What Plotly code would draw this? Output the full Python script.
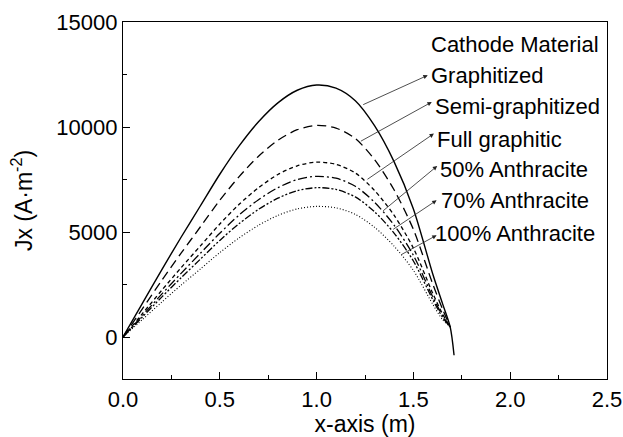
import plotly.graph_objects as go

x_main = [0, 0.1, 0.2, 0.3, 0.4, 0.5, 0.6, 0.7, 0.8, 0.9, 1.0, 1.1, 1.2, 1.3, 1.4, 1.5, 1.6, 1.65, 1.69]
x_graph = x_main + [1.71]

graphitized = [0, 1600, 3200, 4750, 6250, 7750, 9100, 10250, 11150, 11750, 12000, 11850, 11250, 10050, 8350, 6100, 3000, 1600, 480, -870]
semi_graphitized = [0, 1340, 2690, 3990, 5250, 6510, 7640, 8610, 9370, 9870, 10080, 9950, 9450, 8440, 7010, 5120, 2520, 1340, 480]
full_graphitic = [0, 1110, 2220, 3300, 4340, 5380, 6320, 7110, 7740, 8150, 8330, 8220, 7810, 6970, 5800, 4230, 2080, 1110, 480]
anthracite_50 = [0, 1020, 2040, 3030, 3990, 4940, 5810, 6540, 7110, 7500, 7650, 7560, 7180, 6410, 5330, 3890, 1910, 1020, 480]
anthracite_70 = [0, 950, 1900, 2820, 3710, 4600, 5400, 6080, 6610, 6970, 7110, 7030, 6670, 5960, 4950, 3620, 1780, 950, 480]
anthracite_100 = [0, 830, 1660, 2470, 3240, 4020, 4720, 5320, 5790, 6100, 6220, 6150, 5840, 5220, 4330, 3170, 1560, 830, 480]

names = ["Graphitized", "Semi-graphitized", "Full graphitic", "50% Anthracite", "70% Anthracite", "100% Anthracite"]
y_tickvals = [0, 5000, 10000, 15000]
y_ticktext = ["0", "5000", "10000", "15000"]

series = [graphitized, semi_graphitized, full_graphitic, anthracite_50, anthracite_70, anthracite_100]
xs = [x_graph, x_main, x_main, x_main, x_main, x_main]
dashes = ["solid", "9px,5px", "4px,3px", "9px,3px,2px,3px", "7px,2px,2px,2px,2px,2px", "1px,2px"]
widths = [1.4, 1.3, 1.3, 1.3, 1.3, 1.1]

# arrow (tail on curve -> head at label) in data coords
arrow_tail = [(1.233, 11033), (1.221, 9286), (1.255, 7462), (1.336, 5952), (1.388, 5081), (1.431, 3890)]
arrow_head = [(1.574, 12462), (1.595, 11190), (1.606, 9686), (1.623, 8143), (1.620, 6510), (1.620, 4843)]
label_pos = [(1.580, 12462), (1.600, 10980), (1.612, 9420), (1.625, 7990), (1.632, 6510), (1.600, 4940)]

fig = go.Figure()
for xv, yv, n, d, w in zip(xs, series, names, dashes, widths):
    fig.add_trace(go.Scatter(x=xv, y=yv, mode="lines", name=n,
                             line=dict(color="black", dash=d, width=w, shape="spline", smoothing=0.8)))

font_family = "Liberation Sans, Arial, sans-serif"
ann = []
ann.append(dict(x=1.58, y=13940, xref="x", yref="y", text="Cathode Material", showarrow=False,
                xanchor="left", yanchor="middle", font=dict(size=22, color="black", family=font_family)))
for (tx, ty), (hx, hy), (lx, ly), n in zip(arrow_tail, arrow_head, label_pos, names):
    ann.append(dict(x=hx, y=hy, ax=tx, ay=ty, xref="x", yref="y", axref="x", ayref="y", text="",
                    showarrow=True, arrowhead=2, arrowsize=1.1, arrowwidth=0.8, arrowcolor="#222", standoff=0))
    ann.append(dict(x=lx, y=ly, xref="x", yref="y", text=n, showarrow=False,
                    xanchor="left", yanchor="middle", font=dict(size=22, color="black", family=font_family)))

fig.update_layout(
    width=623, height=437,
    margin=dict(l=123, r=16, t=22, b=58),
    paper_bgcolor="white", plot_bgcolor="white",
    showlegend=False,
    font=dict(family=font_family, size=22, color="black"),
    annotations=ann,
)
fig.update_xaxes(range=[0, 2.5], dtick=0.5, tickformat=".1f", showgrid=False, zeroline=False,
                 automargin=False,
                 showline=True, linecolor="black", linewidth=1.3, mirror=True,
                 ticks="inside", ticklen=7, tickwidth=1.2, tickcolor="black",
                 minor=dict(dtick=0.25, ticks="inside", ticklen=4, tickwidth=1.2, tickcolor="black"),
                 title=dict(text="x-axis (m)", font=dict(size=23), standoff=4),
                 tickfont=dict(size=22))
fig.update_yaxes(range=[-2000, 15000], tickvals=y_tickvals, ticktext=y_ticktext, showgrid=False, zeroline=False,
                 automargin=False,
                 showline=True, linecolor="black", linewidth=1.3, mirror=True,
                 ticks="inside", ticklen=7, tickwidth=1.2, tickcolor="black",
                 minor=dict(tickvals=[2500, 7500, 12500], ticks="inside", ticklen=4, tickwidth=1.2, tickcolor="black"),
                 title=dict(text="Jx (A·m<sup>-2</sup>)", font=dict(size=23), standoff=17),
                 tickfont=dict(size=22))

fig.write_html("out.html", config={"displayModeBar": False},
               post_script="document.body.style.margin='0';document.body.style.overflow='hidden';")
